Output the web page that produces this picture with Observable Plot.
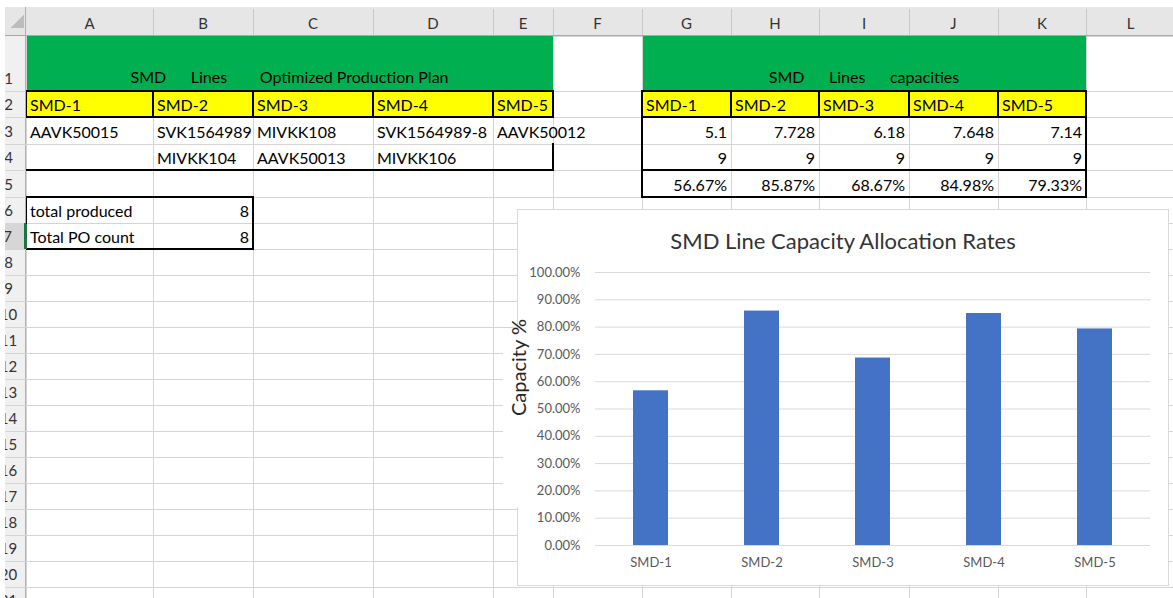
<!DOCTYPE html>
<html><head><meta charset="utf-8">
<script src="https://cdn.jsdelivr.net/npm/d3@7"></script>
<script src="https://cdn.jsdelivr.net/npm/@observablehq/plot@0.6"></script>
<style>
body{margin:0;background:#fff;font-family:Lato, "Noto Sans", sans-serif;}
#sheet{position:relative;width:1173px;height:598px;overflow:hidden;background:#fff;}
.abs{position:absolute;box-sizing:border-box;}
.cell{position:absolute;box-sizing:border-box;display:flex;align-items:flex-end;white-space:pre;font-size:16px;line-height:16px;color:#000;padding:0 4px 4px 4px;}
</style></head><body><div id="sheet"></div>
<script>
// ---- data ----
const colLetters = ["A","B","C","D","E","F","G","H","I","J","K","L"];
const lines = ["SMD-1","SMD-2","SMD-3","SMD-4","SMD-5"];
const planTitle = "SMD      Lines        Optimized Production Plan";
const capTitle = "SMD      Lines      capacities";
const planRow1 = ["AAVK50015","SVK1564989","MIVKK108","SVK1564989-8","AAVK50012"];
const planRow2 = ["","MIVKK104","AAVK50013","MIVKK106",""];
const allocated = [5.1, 7.728, 6.18, 7.648, 7.14];
const capacity = [9, 9, 9, 9, 9];
const rates = [56.67, 85.87, 68.67, 84.98, 79.33];
const totalsLabels = ["total produced","Total PO count"];
const totalsValues = [8, 8];
const yTicks = [0,10,20,30,40,50,60,70,80,90,100];
const chartTitle = "SMD Line Capacity Allocation Rates";
const yLabel = "Capacity %";

// ---- layout ----
const colEdges = [26,153,253,373,493,553,642,731,819,909,998,1086,1175];
const rowEdges = [36,91,117,144,170,197,223,249,275,301,327,353,379,405,431,457,483,509,535,561,587,613];
const sheet = document.getElementById("sheet");
function box(x,y,w,h,css){const d=document.createElement("div");d.className="abs";Object.assign(d.style,{left:x+"px",top:y+"px",width:w+"px",height:h+"px"},css||{});sheet.appendChild(d);return d;}
function cell(text,c0,c1,r,align,css){const x0=colEdges[c0],x1=colEdges[c1+1],y0=rowEdges[r-1],y1=rowEdges[r];const d=document.createElement("div");d.className="cell";Object.assign(d.style,{left:x0+"px",top:y0+"px",width:(x1-x0)+"px",height:(y1-y0)+"px",justifyContent:align==="right"?"flex-end":align==="center"?"center":"flex-start"},css||{});d.textContent=text;sheet.appendChild(d);return d;}
const G="#d4d4d4";
// gridlines
colEdges.forEach(x=>box(x,36,1,600,{background:G}));
rowEdges.forEach(y=>box(26,y,1200,1,{background:G}));
// fills
box(colEdges[0]+1,rowEdges[0],colEdges[5]-colEdges[0]-1,rowEdges[1]-rowEdges[0],{background:"#00B050"});
box(colEdges[6]+1,rowEdges[0],colEdges[11]-colEdges[6]-1,rowEdges[1]-rowEdges[0],{background:"#00B050"});
for(let i=0;i<5;i++){
  box(colEdges[i],rowEdges[1],colEdges[i+1]-colEdges[i],rowEdges[2]-rowEdges[1],{background:"#FFFF00"});
  box(colEdges[i+6],rowEdges[1],colEdges[i+7]-colEdges[i+6],rowEdges[2]-rowEdges[1],{background:"#FFFF00"});
}
// thick borders
const K="#000";
function hline(x0,x1,y){box(x0-1,y-1,x1-x0+2,2,{background:K});}
function vline(x,y0,y1){box(x-1,y0-1,2,y1-y0+2,{background:K});}
hline(colEdges[0],colEdges[5],rowEdges[1]);hline(colEdges[0],colEdges[5],rowEdges[2]);
for(let i=0;i<=5;i++)vline(colEdges[i],rowEdges[1],rowEdges[2]);
hline(colEdges[6],colEdges[11],rowEdges[1]);hline(colEdges[6],colEdges[11],rowEdges[2]);
for(let i=6;i<=11;i++)vline(colEdges[i],rowEdges[1],rowEdges[2]);
// A3:E4 outline
hline(colEdges[0],colEdges[5],rowEdges[4]);vline(colEdges[5],rowEdges[3],rowEdges[4]);
// G3:K4 and G5:K5
vline(colEdges[6],rowEdges[2],rowEdges[5]);vline(colEdges[11],rowEdges[2],rowEdges[5]);
hline(colEdges[6],colEdges[11],rowEdges[4]);hline(colEdges[6],colEdges[11],rowEdges[5]);
// A6:B7
hline(colEdges[0],colEdges[2],rowEdges[5]);hline(colEdges[0],colEdges[2],rowEdges[7]);
vline(colEdges[0],rowEdges[5],rowEdges[7]);vline(colEdges[2],rowEdges[5],rowEdges[7]);
box(colEdges[0]-1,rowEdges[6]+1,2,rowEdges[7]-rowEdges[6]-1,{background:"#217346"});

// column header
box(0,7,1173,29,{background:"#e6e6e6",borderBottom:"1px solid #a8a8a8"});
colLetters.forEach((l,i)=>{
  box(colEdges[i+1],9,1,26,{background:"#c8c8c8"});
  const d=box(colEdges[i],7,colEdges[i+1]-colEdges[i],29,{display:"flex",alignItems:"center",justifyContent:"center",fontSize:"15px",color:"#333",paddingTop:"2px"});
  d.textContent=l;
});
// row header
box(-9,36,35,600,{background:"#f0f0f0",borderRight:"1px solid #b0b0b0"});
rowEdges.slice(0,-1).forEach((y,i)=>{
  const y1=rowEdges[i+1];
  box(-9,y1,35,1,{background:G});
  const d=box(-9,y,35,y1-y,{display:"flex",alignItems:"flex-end",justifyContent:"center",fontSize:"15px",lineHeight:"15px",color:"#333",paddingBottom:"5px",background:i===6?"#d6d6d6":"transparent",borderRight:i===6?"2px solid #217346":"none"});
  d.textContent=String(i+1);
});
// corner
box(6,7,20,29,{background:"#e6e6e6",borderRight:"1px solid #b0b0b0",borderBottom:"1px solid #a8a8a8"});
box(0,0,1173,7,{background:"#fff"});
box(0,0,5,598,{background:"#fff"});
box(10,14,14,14,{background:"linear-gradient(135deg, transparent 50%, #bdbdbd 50%)"});

// cell texts
cell(planTitle,0,4,1,"center",{paddingBottom:"6px"});
cell(capTitle,6,10,1,"center",{paddingBottom:"6px"});
lines.forEach((l,i)=>{cell(l,i,i,2,"left");cell(l,i+6,i+6,2,"left");});
planRow1.forEach((t,i)=>cell(t,i,i,3,"left"));
planRow2.forEach((t,i)=>cell(t,i,i,4,"left"));
allocated.forEach((v,i)=>cell(String(v),i+6,i+6,3,"right"));
capacity.forEach((v,i)=>cell(String(v),i+6,i+6,4,"right"));
rates.forEach((v,i)=>cell(v.toFixed(2)+"%",i+6,i+6,5,"right"));
totalsLabels.forEach((t,i)=>{cell(t,0,0,6+i,"left");cell(String(totalsValues[i]),1,1,6+i,"right");});

// ---- chart ----
box(517,209,652,377,{background:"#fff",border:"1px solid #d9d9d9"});
box(503,329,15,178,{background:"#fff"});
const data = lines.map((l,i)=>({line:l, rate:rates[i]}));
const chart = Plot.plot({
  width: 668, height: 376,
  marginLeft: 95, marginRight: 18, marginTop: 63, marginBottom: 40,
  style: {background:"transparent", fontFamily:"Lato, sans-serif", overflow:"visible"},
  x: {domain: lines, paddingInner: 0.685, paddingOuter: 0.3425},
  y: {domain: [0,100]},
  marks: [
    Plot.gridY(yTicks, {stroke:"#d9d9d9", strokeOpacity:1, strokeWidth:1}),
    Plot.barY(data, {x:"line", y:"rate", fill:"#4472C4"}),
    Plot.axisY(yTicks, {tickSize:0, tickPadding:15, tickFormat: d=>d.toFixed(2)+"%", fontSize:13, fill:"#595959", label:null}),
    Plot.axisX({tickSize:0, tickPadding:12, fontSize:13, fill:"#595959", label:null}),
    Plot.text([yLabel], {frameAnchor:"left", dx:-76, dy:7, rotate:-90, fontSize:20, fill:"#262626"})
  ]
});
const holder = box(500,209,668,376,{});
holder.appendChild(chart);
const t = box(517,230,652,24,{textAlign:"center",fontSize:"22px",lineHeight:"22px",color:"#333",whiteSpace:"nowrap"});
t.textContent = chartTitle;
</script></body></html>
